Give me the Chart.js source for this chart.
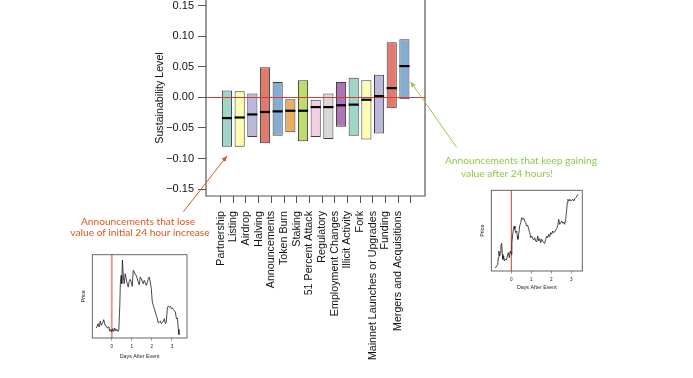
<!DOCTYPE html>
<html><head><meta charset="utf-8">
<script src="https://cdn.jsdelivr.net/npm/chart.js@4"></script>
<style>
html,body{margin:0;padding:0;background:#fff;}
#wrap{position:relative;width:693px;height:378px;overflow:hidden;background:#fff;}
canvas{position:absolute;}
.note{position:absolute;font-family:Lato,'Open Sans',sans-serif;font-size:10.2px;white-space:nowrap;line-height:12px;transform:translate(-50%,-50%);}
.red{color:#e0561e;}
.green{color:#8ccb4a;}
</style></head><body>
<div id="wrap">
<canvas id="main" width="693" height="378" style="left:0;top:0"></canvas>
<canvas id="insetL" width="120" height="116" style="left:72px;top:248px"></canvas>
<canvas id="insetR" width="120" height="115" style="left:471px;top:184px"></canvas>
<div class="note red" style="left:138px;top:221px">Announcements that lose</div>
<div class="note red" style="left:140px;top:232px">value of initial 24 hour increase</div>
<div class="note green" style="left:521px;top:160px">Announcements that keep gaining</div>
<div class="note green" style="left:507px;top:173px">value after 24 hours!</div>
</div>
<script>
const categories = ['Partnership','Listing','Airdrop','Halving','Announcements','Token Burn','Staking','51 Percent Attack','Regulatory','Employment Changes','Illicit Activity','Fork','Mainnet Launches or Upgrades','Funding','Mergers and Acquisitions'];
const boxLow    = [-0.081,-0.081,-0.065,-0.075,-0.063,-0.057,-0.072,-0.065,-0.068,-0.048,-0.063,-0.069,-0.059,-0.018,-0.003];
const boxHigh   = [0.011,0.010,0.006,0.049,0.025,-0.003,0.028,-0.004,0.006,0.025,0.032,0.028,0.037,0.090,0.095];
const boxMedian = [-0.034,-0.033,-0.028,-0.024,-0.023,-0.022,-0.022,-0.016,-0.016,-0.013,-0.012,-0.004,0.002,0.015,0.051];
const yTicks = [-0.15,-0.10,-0.05,0,0.05,0.10,0.15];
const lossArrow = [[-2.44,-0.187],[1.0,-0.096]];
const gainArrow = [[19.13,-0.082],[15.49,0.0255]];

const insetTicks = [0,1,2,3];
const leftDays = [-0.77,-0.68,-0.63,-0.57,-0.52,-0.45,-0.40,-0.33,-0.27,-0.22,-0.15,-0.10,-0.05,0,0.05,0.10,0.15,0.20,0.25,0.30,0.35,
 0.40,0.43,0.47,0.50,0.53,0.58,0.62,0.67,0.72,0.77,0.82,0.87,0.92,0.97,1.02,
 1.07,1.12,1.17,1.22,1.27,1.32,1.37,1.42,1.47,1.52,1.57,1.62,1.67,1.72,1.77,1.82,1.87,1.92,1.97,2.02,2.07,2.12,2.17,2.22,2.27,2.32,2.37,2.42,2.47,2.52,2.57,2.62,2.67,2.72,2.77,2.82,2.87,2.92,2.97,3.02,3.07,3.12,3.17,3.22,3.27,3.32,3.35];
const leftPrice = [30,43,33,51,38,46,55,38,36,30,33,20,26,18,28,20,30,21,26,20,22,
 98,168,188,163,234,183,163,193,178,163,153,170,176,168,155,
 203,198,190,188,178,168,160,183,178,170,163,173,166,158,166,178,183,168,148,108,98,88,78,68,58,45,48,51,43,46,50,58,43,48,90,96,93,95,88,90,86,82,78,58,60,26,10];
const rightDays = [-0.80,-0.73,-0.68,-0.65,-0.62,-0.58,-0.55,-0.52,-0.48,-0.45,-0.42,-0.38,-0.35,-0.30,-0.25,-0.20,-0.15,-0.10,-0.05,0,
 0.03,0.07,0.12,0.15,0.18,0.22,0.27,0.30,0.33,0.37,
 0.42,0.47,0.52,0.57,0.62,0.67,0.72,0.77,0.82,0.87,0.92,0.97,1.02,1.07,1.12,1.17,1.22,1.27,1.32,1.37,1.42,1.47,1.52,1.57,1.62,1.67,1.72,1.77,1.82,1.87,1.92,1.97,2.02,2.07,2.12,2.17,2.22,2.27,2.32,2.37,2.42,2.47,2.52,2.57,2.62,2.67,2.72,
 2.77,2.80,2.83,2.88,2.93,2.98,3.03,3.08,3.13,3.18,3.23,3.28,3.33];
const rightPrice = [9,15,19,40,60,45,55,75,83,50,35,45,30,35,33,45,55,40,60,50,
 85,110,130,135,125,115,120,105,95,110,
 135,145,160,155,158,150,145,135,137,125,115,100,105,97,93,100,90,87,105,90,97,85,95,90,85,83,95,105,100,110,103,115,110,120,115,117,123,127,135,155,140,145,150,143,147,140,155,
 185,205,215,210,215,210,213,215,210,217,220,225,230];

const boxColors = ['#9fd6c8','#fdfdb1','#bcb8d9','#e07a6c','#87acd1','#e9ad63','#bddc6b','#f2cfe3','#d8d8d8','#ad76b1','#9fd6c8','#fdfdb1','#bcb8d9','#e07a6c','#87acd1'];

Chart.defaults.font.family = "'Liberation Sans', Arial, Helvetica, sans-serif";
Chart.defaults.color = '#111';

function drawArrow(ctx, x1, y1, x2, y2, color) {
  ctx.save();
  ctx.strokeStyle = color; ctx.fillStyle = color; ctx.lineWidth = 1;
  ctx.beginPath(); ctx.moveTo(x1, y1); ctx.lineTo(x2, y2); ctx.stroke();
  const a = Math.atan2(y2 - y1, x2 - x1), L = 6, w = 0.42;
  ctx.beginPath();
  ctx.moveTo(x2, y2);
  ctx.lineTo(x2 - L * Math.cos(a - w), y2 - L * Math.sin(a - w));
  ctx.lineTo(x2 - L * Math.cos(a + w), y2 - L * Math.sin(a + w));
  ctx.closePath(); ctx.fill();
  ctx.restore();
}

const boxPlugin = {
  id: 'boxExtras',
  afterDatasetsDraw(chart) {
    const {ctx, chartArea: ca, scales: {x, y}} = chart;
    ctx.save();
    ctx.strokeStyle = '#d83a3a'; ctx.lineWidth = 1;
    const y0 = Math.round(y.getPixelForValue(0)) + 0.5;
    ctx.beginPath(); ctx.moveTo(ca.left, y0); ctx.lineTo(ca.right, y0); ctx.stroke();
    const meta = chart.getDatasetMeta(0);
    ctx.strokeStyle = '#000'; ctx.lineWidth = 2.2;
    meta.data.forEach((el, i) => {
      const p = el.getProps(['x', 'width'], true);
      const ym = y.getPixelForValue(boxMedian[i]);
      ctx.beginPath(); ctx.moveTo(p.x - p.width / 2, ym); ctx.lineTo(p.x + p.width / 2, ym); ctx.stroke();
    });
    ctx.strokeStyle = '#555'; ctx.lineWidth = 1.2;
    ctx.beginPath();
    ctx.moveTo(ca.left, ca.top); ctx.lineTo(ca.left, ca.bottom); ctx.lineTo(ca.right, ca.bottom); ctx.lineTo(ca.right, ca.top);
    ctx.stroke();
    ctx.restore();
  },
  afterDraw(chart) {
    const {ctx, scales: {x, y}} = chart;
    drawArrow(ctx, x.getPixelForValue(lossArrow[0][0]), y.getPixelForValue(lossArrow[0][1]),
      x.getPixelForValue(lossArrow[1][0]), y.getPixelForValue(lossArrow[1][1]), '#e0561e');
    drawArrow(ctx, x.getPixelForValue(gainArrow[0][0]), y.getPixelForValue(gainArrow[0][1]),
      x.getPixelForValue(gainArrow[1][0]), y.getPixelForValue(gainArrow[1][1]), '#8ccb4a');
  }
};

new Chart(document.getElementById('main'), {
  type: 'bar',
  data: {
    datasets: [{
      data: categories.map((c, i) => ({x: i + 1, y: [boxLow[i], boxHigh[i]]})),
      backgroundColor: boxColors,
      borderColor: '#3d3d3d',
      borderWidth: 1,
      borderSkipped: false,
      categoryPercentage: 1,
      barPercentage: 0.8
    }]
  },
  options: {
    responsive: false, animation: false, devicePixelRatio: 1,
    layout: {padding: {left: 150, right: 268, top: 0, bottom: 12}},
    plugins: {legend: {display: false}, tooltip: {enabled: false}},
    scales: {
      x: {
        type: 'linear', min: -0.08, max: 16.05,
        afterBuildTicks(s) { s.ticks = categories.map((c, i) => ({value: i + 1})); },
        afterFit(s) { s.height = 170; s.paddingLeft = 0; s.paddingRight = 0; },
        ticks: {
          autoSkip: false, minRotation: 90, maxRotation: 90, padding: 8, labelOffset: -6.4,
          font: {size: 10.7}, color: '#111',
          callback(v) { const i = Math.round(v) - 1; return categories[i] ?? ''; }
        },
        grid: {drawOnChartArea: false, drawTicks: true, tickLength: 7, color: '#555'},
        border: {display: false}
      },
      y: {
        min: -0.1613, max: 0.159,
        afterBuildTicks(s) { s.ticks = yTicks.map(v => ({value: v})); },
        afterFit(s) { s.width = 56; s.paddingTop = 0; s.paddingBottom = 0; },
        ticks: {
          padding: 4, font: {size: 11}, color: '#111',
          callback(v) { return (v < -1e-9 ? '\u2212' : '') + Math.abs(v).toFixed(2); }
        },
        grid: {drawOnChartArea: false, drawTicks: true, tickLength: 8, color: '#555'},
        border: {display: false},
        title: {display: true, text: 'Sustainability Level', font: {size: 10.7}, color: '#111', padding: {top: 4, bottom: 0}}
      }
    }
  },
  plugins: [boxPlugin]
});

function makeInset(id, days, price, yMax, xMin, xMax, evColor, evWidth, pad, titleBottom) {
  const insetPlugin = {
    id: 'insetExtras' + id,
    beforeDatasetsDraw(chart) {
      const {ctx, chartArea: ca, scales: {x}} = chart;
      const x0 = x.getPixelForValue(0);
      ctx.save(); ctx.strokeStyle = evColor; ctx.lineWidth = evWidth;
      ctx.beginPath(); ctx.moveTo(x0, ca.top); ctx.lineTo(x0, ca.bottom); ctx.stroke(); ctx.restore();
    },
    afterDraw(chart) {
      const {ctx, chartArea: ca} = chart;
      ctx.save(); ctx.strokeStyle = '#555'; ctx.lineWidth = 0.9;
      ctx.strokeRect(ca.left, ca.top, ca.right - ca.left, ca.bottom - ca.top); ctx.restore();
    }
  };
  new Chart(document.getElementById(id), {
    type: 'line',
    data: {datasets: [{data: days.map((d, i) => ({x: d, y: price[i]})), borderColor: '#1a1a1a', borderWidth: 0.8, pointRadius: 0, tension: 0}]},
    options: {
      responsive: false, animation: false, devicePixelRatio: 1,
      layout: {padding: pad},
      plugins: {legend: {display: false}, tooltip: {enabled: false}},
      scales: {
        x: {
          type: 'linear', min: xMin, max: xMax,
          afterBuildTicks(s) { s.ticks = insetTicks.map(v => ({value: v})); },
          afterFit(s) { s.height = 26; s.paddingLeft = 0; s.paddingRight = 0; },
          ticks: {font: {size: 4.6}, color: '#222', padding: 3, maxRotation: 0, autoSkip: false},
          grid: {drawOnChartArea: false, drawTicks: true, tickLength: 2.5, color: '#555', lineWidth: 0.6},
          border: {display: false},
          title: {display: true, text: 'Days After Event', font: {size: 5.3}, color: '#222', padding: {top: 0, bottom: titleBottom}}
        },
        y: {
          min: 0, max: yMax,
          afterFit(s) { s.width = 14; s.paddingTop = 0; s.paddingBottom = 0; },
          ticks: {display: false},
          grid: {display: false},
          border: {display: false},
          title: {display: true, text: 'Price', font: {size: 5.3}, color: '#222', padding: {top: 2.5, bottom: 0}}
        }
      }
    },
    plugins: [insetPlugin]
  });
}

makeInset('insetL', leftDays, leftPrice, 250, -0.97, 3.75, '#f28b8b', 1.8, {left: 6.3, top: 6.7, right: 5, bottom: 0}, 4.1);
makeInset('insetR', rightDays, rightPrice, 242, -1.0, 3.55, '#cc2222', 0.9, {left: 6.3, top: 6.3, right: 8.7, bottom: 2}, 5.8);
</script>
</body></html>
